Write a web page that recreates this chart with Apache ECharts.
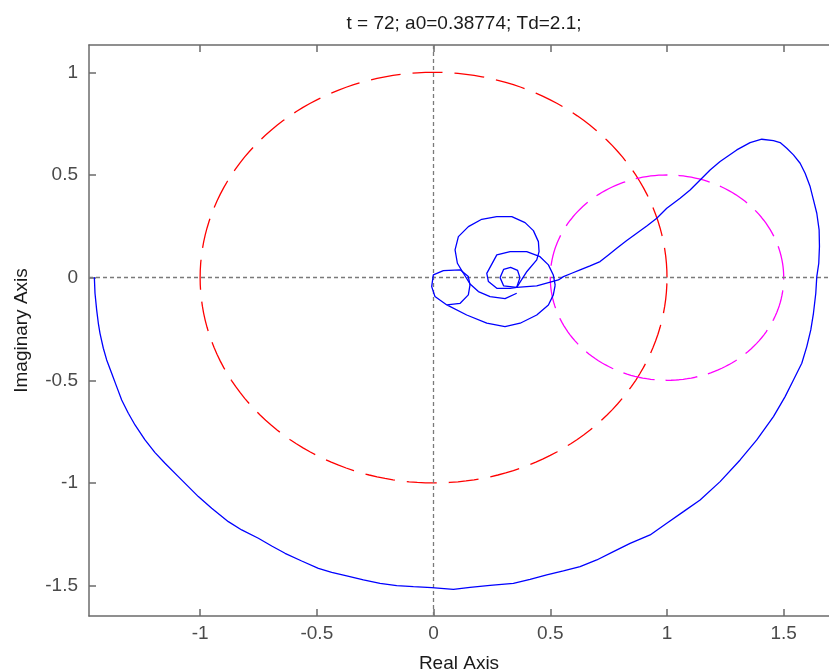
<!DOCTYPE html>
<html>
<head>
<meta charset="utf-8">
<script src="https://cdn.jsdelivr.net/npm/echarts@6/dist/echarts.min.js"></script>
<style>
  html, body { margin: 0; padding: 0; background: #fff; }
  #chart { width: 829px; height: 672px; }
</style>
</head>
<body>
<div id="chart"></div>
<script>
// Title and axis names
const titleText = 't = 72; a0=0.38774; Td=2.1;';
const xName = 'Real Axis';
const yName = 'Imaginary Axis';

// Axis extents and tick positions
const xRange = [-1.476, 1.694];
const yRange = [-1.648, 1.133];
const xTicks = [-1, -0.5, 0, 0.5, 1, 1.5];
const yTicks = [-1.5, -1, -0.5, 0, 0.5, 1];

// Reference circles: [centerRe, centerIm, radius]
const unitCircle = [0, 0, 1];
const shiftedCircle = [1, 0, 0.5];

// Nyquist hodograph, outer branch (Re, Im)
const outerBranch = [
  [-1.4531, 0.0018], [-1.4503, -0.0761], [-1.4432, -0.1573], [-1.4360, -0.2223],
  [-1.4289, -0.2710], [-1.4146, -0.3440], [-1.4003, -0.4009], [-1.3789, -0.4658],
  [-1.3575, -0.5308], [-1.3360, -0.5957], [-1.3075, -0.6606], [-1.2789, -0.7175],
  [-1.2361, -0.7906], [-1.1932, -0.8522], [-1.1504, -0.9042], [-1.0933, -0.9691],
  [-1.0504, -1.0178], [-1.0076, -1.0665], [-0.9504, -1.1234], [-0.8790, -1.1884],
  [-0.8219, -1.2289], [-0.7505, -1.2695], [-0.6933, -1.3069], [-0.6362, -1.3426],
  [-0.5648, -1.3800], [-0.4934, -1.4157], [-0.4363, -1.4352], [-0.3720, -1.4530],
  [-0.3006, -1.4725], [-0.2292, -1.4887], [-0.1578, -1.5001], [-0.0864, -1.5050],
  [-0.0078, -1.5098], [0.0850, -1.5179], [0.1564, -1.5082], [0.2421, -1.4984],
  [0.3420, -1.4887], [0.4135, -1.4692], [0.4849, -1.4481], [0.5562, -1.4286],
  [0.6277, -1.4075], [0.6991, -1.3751], [0.7705, -1.3345], [0.8419, -1.2939],
  [0.9276, -1.2533], [0.9990, -1.1963], [1.0704, -1.1398], [1.1418, -1.0828],
  [1.2275, -0.9935], [1.3132, -0.8880], [1.3846, -0.7906],
  [1.4560, -0.6769], [1.5060, -0.5795], [1.5417, -0.4983], [1.5774, -0.4171],
  [1.5988, -0.3359], [1.6160, -0.2548], [1.6274, -0.1736], [1.6374, -0.0761],
  [1.6417, 0.0050], [1.6502, 0.0700], [1.6531, 0.1512], [1.6517, 0.2323],
  [1.6417, 0.3135], [1.6274, 0.3785], [1.6131, 0.4434], [1.5917, 0.5084],
  [1.5703, 0.5571], [1.5417, 0.5977], [1.5131, 0.6302], [1.4846, 0.6578],
  [1.4560, 0.6675], [1.4060, 0.6740], [1.3560, 0.6578], [1.2989, 0.6220],
  [1.2275, 0.5652], [1.1846, 0.5246], [1.1418, 0.4759], [1.0990, 0.4272],
  [1.0561, 0.3866], [0.9990, 0.3379], [0.9562, 0.2892], [0.9133, 0.2518],
  [0.8705, 0.2161], [0.8276, 0.1804], [0.7848, 0.1431], [0.7491, 0.1106],
  [0.7134, 0.0781], [0.6705, 0.0570], [0.6277, 0.0375], [0.5920, 0.0213],
  [0.5563, 0.0050], [0.5348, -0.0112], [0.4420, -0.0400], [0.3563, -0.0470]
];

// Inner loops of the hodograph
const mediumLoop = [
  [0.3563, -0.0470], [0.3280, -0.0520], [0.2710, -0.0520], [0.2350, -0.0190],
  [0.2280, 0.0210], [0.2710, 0.1110], [0.3280, 0.1270], [0.3990, 0.1270],
  [0.4560, 0.1020], [0.4920, 0.0620], [0.5130, 0.0130], [0.5210, -0.0360]
];
const lowerArc = [
  [0.5210, -0.0360], [0.5130, -0.0840], [0.4920, -0.1330], [0.4420, -0.1820],
  [0.3710, -0.2220], [0.3060, -0.2390], [0.2280, -0.2220], [0.1420, -0.1820],
  [0.0570, -0.1330], [0.0060, -0.0920], [-0.0080, -0.0440], [-0.0010, 0.0130],
  [0.0420, 0.0340], [0.1140, 0.0380], [0.1490, 0.0050], [0.1560, -0.0360],
  [0.1490, -0.0840], [0.1140, -0.1250], [0.0570, -0.1330]
];
const upperLoop = [
  [0.3563, -0.0761], [0.3063, -0.1021], [0.2421, -0.0924], [0.1921, -0.0680],
  [0.1564, -0.0307], [0.1278, 0.0213], [0.1021, 0.0700], [0.0921, 0.1349],
  [0.1064, 0.1998], [0.1492, 0.2485], [0.2064, 0.2842], [0.2707, 0.2973],
  [0.3350, 0.2973], [0.3920, 0.2680], [0.4277, 0.2290], [0.4491, 0.1754],
  [0.4520, 0.1268], [0.4420, 0.0862], [0.4000, 0.0300], [0.3563, -0.0470]
];
const smallLoop = [
  [0.3563, -0.0470], [0.3000, -0.0400], [0.2850, 0.0000], [0.3000, 0.0400],
  [0.3300, 0.0500], [0.3600, 0.0350], [0.3700, 0.0000], [0.3563, -0.0470]
];

function circlePoints(c) {
  const pts = [];
  for (let a = 0; a <= 360; a += 2) {
    const t = a * Math.PI / 180;
    pts.push([c[0] + c[2] * Math.cos(t), c[1] + c[2] * Math.sin(t)]);
  }
  return pts;
}

const axisGray = '#6b6b6b';
const labelGray = '#4a4a4a';
const fontFam = '"Liberation Sans", Arial, Helvetica, sans-serif';
const fontSize = 19;

const blueStyle = { color: '#0000ff', width: 1.3 };
function blueSeries(data) {
  return {
    type: 'line', data: data, showSymbol: false, symbol: 'none',
    lineStyle: blueStyle, z: 5, animation: false, silent: true
  };
}

const chart = echarts.init(document.getElementById('chart'), null, { renderer: 'canvas' });
chart.setOption({
  animation: false,
  backgroundColor: '#ffffff',
  title: {
    text: titleText, left: 459, top: 9, textAlign: 'center',
    textStyle: { fontFamily: fontFam, fontSize: fontSize, fontWeight: 'normal', color: '#1a1a1a' }
  },
  grid: { left: 89, top: 45, right: 0, bottom: 56, containLabel: false, outerBoundsMode: 'none' },
  xAxis: [{
    type: 'value', min: xRange[0], max: xRange[1],
    name: xName, nameLocation: 'middle', nameGap: 38,
    nameTextStyle: { fontFamily: fontFam, fontSize: fontSize, color: '#1a1a1a' },
    axisLine: { show: true, onZero: false, lineStyle: { color: axisGray, width: 1.5 } },
    axisTick: { show: true, inside: true, length: 7, customValues: xTicks, lineStyle: { color: axisGray, width: 1.5 } },
    axisLabel: { customValues: xTicks, fontFamily: fontFam, fontSize: fontSize, color: labelGray, margin: 8 },
    splitLine: { show: false }
  }, {
    type: 'value', position: 'top', min: xRange[0], max: xRange[1],
    axisLine: { show: true, onZero: false, lineStyle: { color: axisGray, width: 1.5 } },
    axisTick: { show: true, inside: true, length: 7, customValues: xTicks, lineStyle: { color: axisGray, width: 1.5 } },
    axisLabel: { show: false },
    splitLine: { show: false }
  }],
  yAxis: [{
    type: 'value', min: yRange[0], max: yRange[1],
    name: yName, nameLocation: 'middle', nameGap: 58, nameRotate: 90,
    nameTextStyle: { fontFamily: fontFam, fontSize: fontSize, color: '#1a1a1a' },
    axisLine: { show: true, onZero: false, lineStyle: { color: axisGray, width: 1.5 } },
    axisTick: { show: true, inside: true, length: 7, customValues: yTicks, lineStyle: { color: axisGray, width: 1.5 } },
    axisLabel: { customValues: yTicks, fontFamily: fontFam, fontSize: fontSize, color: labelGray, margin: 11 },
    splitLine: { show: false }
  }],
  series: [
    {
      type: 'line', data: [], silent: true,
      markLine: {
        silent: true, symbol: 'none', animation: false,
        label: { show: false },
        lineStyle: { color: '#7a7a7a', type: [4, 3], width: 1.3 },
        data: [{ xAxis: 0 }, { yAxis: 0 }]
      }
    },
    {
      type: 'line', data: circlePoints(unitCircle), showSymbol: false, symbol: 'none',
      lineStyle: { color: '#ff0000', width: 1.3, type: [30, 12] }, z: 3, silent: true
    },
    {
      type: 'line', data: circlePoints(shiftedCircle), showSymbol: false, symbol: 'none',
      lineStyle: { color: '#ff00ff', width: 1.3, type: [32, 11] }, z: 3, silent: true
    },
    blueSeries(outerBranch),
    blueSeries(mediumLoop),
    blueSeries(lowerArc),
    blueSeries(upperLoop),
    blueSeries(smallLoop)
  ]
});
</script>
</body>
</html>
